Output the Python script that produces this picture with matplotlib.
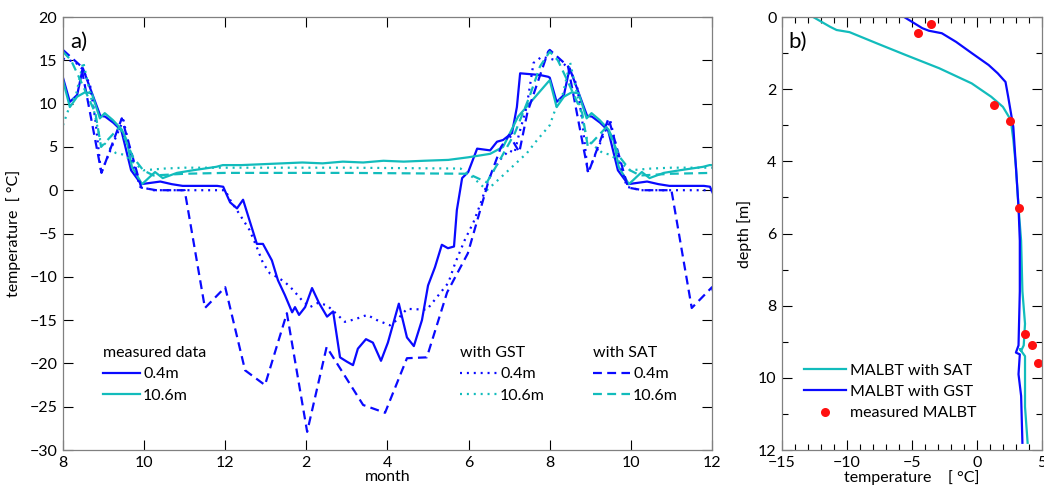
import matplotlib
matplotlib.use("Agg")
import matplotlib.pyplot as plt
import numpy as np
from matplotlib.ticker import MultipleLocator, FixedLocator

plt.rcParams['font.family'] = ['Lato', 'DejaVu Sans']
plt.rcParams['font.size'] = 11.5

BLUE = '#0a0aff'
CYAN = '#12bcbc'

# ---- panel a: one annual cycle (months counted from August = 8), shown twice
t_meas04 = [8.0, 8.17, 8.35, 8.49, 8.7, 8.92, 9.04, 9.24, 9.44, 9.68, 9.93, 10.4, 10.68,
            10.95, 11.8, 11.95, 12.12, 12.29, 12.44, 12.78, 12.93, 13.15, 13.30, 13.47,
            13.65, 13.72, 13.82, 13.97, 14.14, 14.31, 14.51, 14.66, 14.83, 15.0, 15.15,
            15.27, 15.47, 15.64, 15.84, 16.01, 16.28, 16.48, 16.65, 16.85, 17.0, 17.17,
            17.34, 17.49, 17.64, 17.71, 17.84, 17.99, 18.21, 18.53, 18.70, 18.85, 19.07,
            19.19, 19.27, 19.76, 19.96]
T_meas04 = [13.0, 10.2, 11.0, 14.1, 11.4, 8.6, 8.5, 7.8, 6.9, 2.3, 0.7, 1.0, 0.7,
            0.5, 0.5, 0.4, -1.4, -2.1, -1.1, -6.2, -6.2, -8.1, -10.4, -12.1,
            -14.1, -13.5, -14.4, -13.5, -11.3, -13.0, -14.6, -14.0, -19.3, -19.8, -20.2,
            -18.3, -17.2, -17.6, -19.7, -17.6, -13.1, -17.0, -18.0, -15.0, -11.0, -8.9,
            -6.3, -6.7, -6.5, -2.3, 1.4, 2.1, 4.8, 4.6, 5.6, 5.8, 6.6,
            9.6, 13.5, 13.3, 13.1]

t_meas106 = [8.0, 8.17, 8.35, 8.54, 8.71, 8.91, 9.03, 9.23, 9.45, 9.57, 9.70, 9.95, 10.27,
             10.46, 10.81, 11.2, 11.78, 11.94, 12.4, 12.9, 13.4, 13.9, 14.4, 14.9, 15.4,
             15.9, 16.4, 16.9, 17.5, 17.99, 18.53, 18.85, 19.22, 19.96]
T_meas106 = [12.7, 9.6, 10.8, 11.3, 11.2, 8.3, 8.9, 8.1, 7.0, 5.8, 2.7, 0.7, 2.1,
             1.4, 2.0, 2.3, 2.7, 2.9, 2.9, 3.0, 3.1, 3.2, 3.1, 3.3, 3.2,
             3.4, 3.3, 3.4, 3.5, 3.8, 4.2, 5.0, 8.5, 12.5]

t_gst04 = [8.0, 8.3, 8.5, 8.67, 8.8, 8.94, 9.31, 9.49, 9.73, 9.9, 10.23, 12.0, 12.12,
           12.37, 12.6, 12.78, 12.93, 13.1, 13.27, 13.47, 13.67, 13.89, 14.09, 14.29,
           14.51, 14.7, 14.95, 15.2, 15.5, 15.74, 16.06, 16.23, 16.48, 16.97, 17.5,
           17.67, 17.91, 18.12, 18.33, 18.48, 18.77, 19.0, 19.13, 19.25, 19.43, 19.6,
           19.8]
T_gst04 = [15.2, 14.8, 13.9, 12.1, 8.1, 2.0, 6.2, 8.1, 3.1, 0.4, 0.0, 0.0, -1.1,
           -2.9, -4.6, -6.6, -8.4, -9.6, -10.0, -10.6, -11.5, -12.7, -13.5, -13.0,
           -13.3, -14.1, -15.2, -14.9, -14.4, -15.0, -15.6, -15.0, -13.7, -13.8, -10.7,
           -8.4, -5.7, -3.7, -1.1, 1.2, 3.5, 4.6, 4.3, 6.6, 9.6, 14.7,
           15.4]

t_gst106 = [8.0, 8.15, 8.33, 8.5, 8.67, 8.92, 9.3, 9.5, 9.98, 10.5, 11.0, 12.0, 15.0,
            17.8, 18.1, 18.45, 18.8, 19.44, 19.69]
T_gst106 = [7.5, 9.5, 11.2, 14.8, 11.2, 5.8, 4.3, 4.1, 2.3, 2.5, 2.6, 2.6, 2.6,
            2.5, 1.5, 0.0, 1.5, 4.3, 5.8]

t_sat04 = [8.0, 8.45, 8.95, 9.45, 9.93, 10.3, 11.0, 11.5, 12.0, 12.49, 12.98, 13.52,
           14.02, 14.5, 15.4, 15.94, 16.48, 16.97, 17.47, 17.98, 18.5, 18.8, 19.0,
           19.25, 19.45, 19.96]
T_sat04 = [16.2, 14.3, 2.0, 8.3, 0.3, 0.0, 0.0, -13.6, -11.2, -20.8, -22.5, -14.2,
           -27.9, -18.1, -24.8, -25.7, -19.4, -19.3, -11.8, -7.3, 1.2, 5.0, 6.4,
           4.4, 9.0, 16.0]

t_sat106 = [8.0, 8.2, 8.43, 8.8, 8.94, 9.4, 9.73, 9.98, 10.23, 11.0, 12.0, 15.0,
            17.99, 18.45, 18.77, 19.14, 19.5, 19.76]
T_sat106 = [16.0, 15.0, 12.7, 8.9, 5.0, 7.3, 3.8, 2.3, 1.7, 1.9, 2.0, 2.0,
            1.9, 0.9, 3.5, 6.6, 10.8, 14.3]

month_ticks = [8, 10, 12, 14, 16, 18, 20, 22, 24]
month_labels = ['8', '10', '12', '2', '4', '6', '8', '10', '12']

# ---- panel b: mean annual lower boundary temperature profiles
depth_gst = [0.0, 0.31, 0.38, 0.45, 0.69, 1.0, 1.33, 1.56, 1.8, 2.2, 3.05, 4.15, 5.26,
             6.2, 7.6, 9.1, 9.3, 9.35, 9.9, 10.5, 11.8]
temp_gst = [-5.6, -4.2, -3.7, -2.7, -1.6, -0.4, 0.9, 1.6, 2.2, 2.4, 2.8, 3.0, 3.2,
            3.3, 3.3, 3.2, 3.0, 3.3, 3.2, 3.4, 3.5]

depth_sat = [0.0, 0.27, 0.36, 0.42, 0.73, 1.05, 1.42, 1.84, 2.21, 2.49, 2.85, 3.4,
             4.15, 5.27, 6.2, 7.6, 8.5, 9.1, 9.25, 9.2, 9.4, 10.3, 10.8, 11.8]
temp_sat = [-12.6, -11.3, -10.8, -9.8, -7.7, -5.5, -2.9, -0.4, 1.1, 2.0, 2.6, 2.8,
            3.0, 3.2, 3.4, 3.5, 3.7, 3.6, 3.4, 3.3, 3.7, 3.7, 3.7, 3.9]

depth_obs = [0.2, 0.44, 2.43, 2.87, 5.3, 8.79, 9.1, 9.6]
temp_obs = [-3.55, -4.54, 1.34, 2.56, 3.24, 3.7, 4.24, 4.7]


def two_cycles(t, v):
    t = np.asarray(t, float)
    v = np.asarray(v, float)
    return np.concatenate([t, t + 12]), np.concatenate([v, v])


fig = plt.figure(figsize=(10.44, 4.93), dpi=100)
ax = fig.add_axes([0.0603, 0.0872, 0.6217, 0.8783])
axb = fig.add_axes([0.749, 0.0872, 0.2490, 0.8783])

dash = (0, (4, 2.4))
dot = (0, (0.9, 2.2))
lw = 1.6

l_m04, = ax.plot(*two_cycles(t_meas04, T_meas04), color=BLUE, lw=lw)
l_m106, = ax.plot(*two_cycles(t_meas106, T_meas106), color=CYAN, lw=lw)
l_g04, = ax.plot(*two_cycles(t_gst04, T_gst04), color=BLUE, lw=lw, ls=dot)
l_g106, = ax.plot(*two_cycles(t_gst106, T_gst106), color=CYAN, lw=lw, ls=dot)
l_s04, = ax.plot(*two_cycles(t_sat04, T_sat04), color=BLUE, lw=lw, ls=dash)
l_s106, = ax.plot(*two_cycles(t_sat106, T_sat106), color=CYAN, lw=lw, ls=dash)

ax.set_xlim(8, 24)
ax.set_ylim(-30, 20)
ax.xaxis.set_major_locator(FixedLocator(month_ticks))
ax.set_xticklabels(month_labels)
ax.yaxis.set_major_locator(MultipleLocator(5))
ax.set_xlabel('month', labelpad=0)
ax.set_ylabel('temperature  [ °C]', labelpad=6)
ax.text(0.012, 0.965, 'a)', transform=ax.transAxes, fontsize=16, va='top', ha='left')

leg_kw = dict(frameon=False, handlelength=2.3, handletextpad=0.2, labelspacing=0.45,
              borderpad=0, borderaxespad=0, alignment='left', fontsize=11.5,
              title_fontsize=11.5, loc='upper left')
leg1 = ax.legend([l_m04, l_m106], ['0.4m', '10.6m'], title='measured data',
                 bbox_to_anchor=(0.062, 0.24), **leg_kw)
ax.add_artist(leg1)
leg2 = ax.legend([l_g04, l_g106], ['0.4m', '10.6m'], title='with GST',
                 bbox_to_anchor=(0.612, 0.24), **leg_kw)
ax.add_artist(leg2)
ax.legend([l_s04, l_s106], ['0.4m', '10.6m'], title='with SAT',
          bbox_to_anchor=(0.817, 0.24), **leg_kw)

l_bs, = axb.plot(temp_sat, depth_sat, color=CYAN, lw=lw)
l_bg, = axb.plot(temp_gst, depth_gst, color=BLUE, lw=lw)
l_bo, = axb.plot(temp_obs, depth_obs, 'o', color='#ff1010', ms=6.5, mec='none')
axb.set_xlim(-15, 5)
axb.set_ylim(12, 0)
axb.xaxis.set_major_locator(MultipleLocator(5))
axb.xaxis.set_minor_locator(MultipleLocator(1))
axb.yaxis.set_major_locator(MultipleLocator(2))
axb.yaxis.set_minor_locator(MultipleLocator(1))
axb.set_xlabel('temperature    [ °C]', labelpad=0)
axb.set_ylabel('depth [m]', labelpad=4)
axb.text(0.025, 0.965, 'b)', transform=axb.transAxes, fontsize=16, va='top', ha='left')
axb.legend([l_bs, l_bg, l_bo], ['MALBT with SAT', 'MALBT with GST', 'measured MALBT'],
           frameon=False, handlelength=2.6, handletextpad=0.3, labelspacing=0.45,
           borderpad=0, borderaxespad=0, loc='upper left', bbox_to_anchor=(0.085, 0.2),
           fontsize=11.5)

for a in (ax, axb):
    a.tick_params(which='both', direction='in', top=True, right=True, color='k', width=0.8)
    a.tick_params(which='major', length=7, pad=4)
    a.tick_params(which='minor', length=4)
    for s in a.spines.values():
        s.set_color('#808080')
        s.set_linewidth(0.9)

fig.savefig('out.png', dpi=100)
